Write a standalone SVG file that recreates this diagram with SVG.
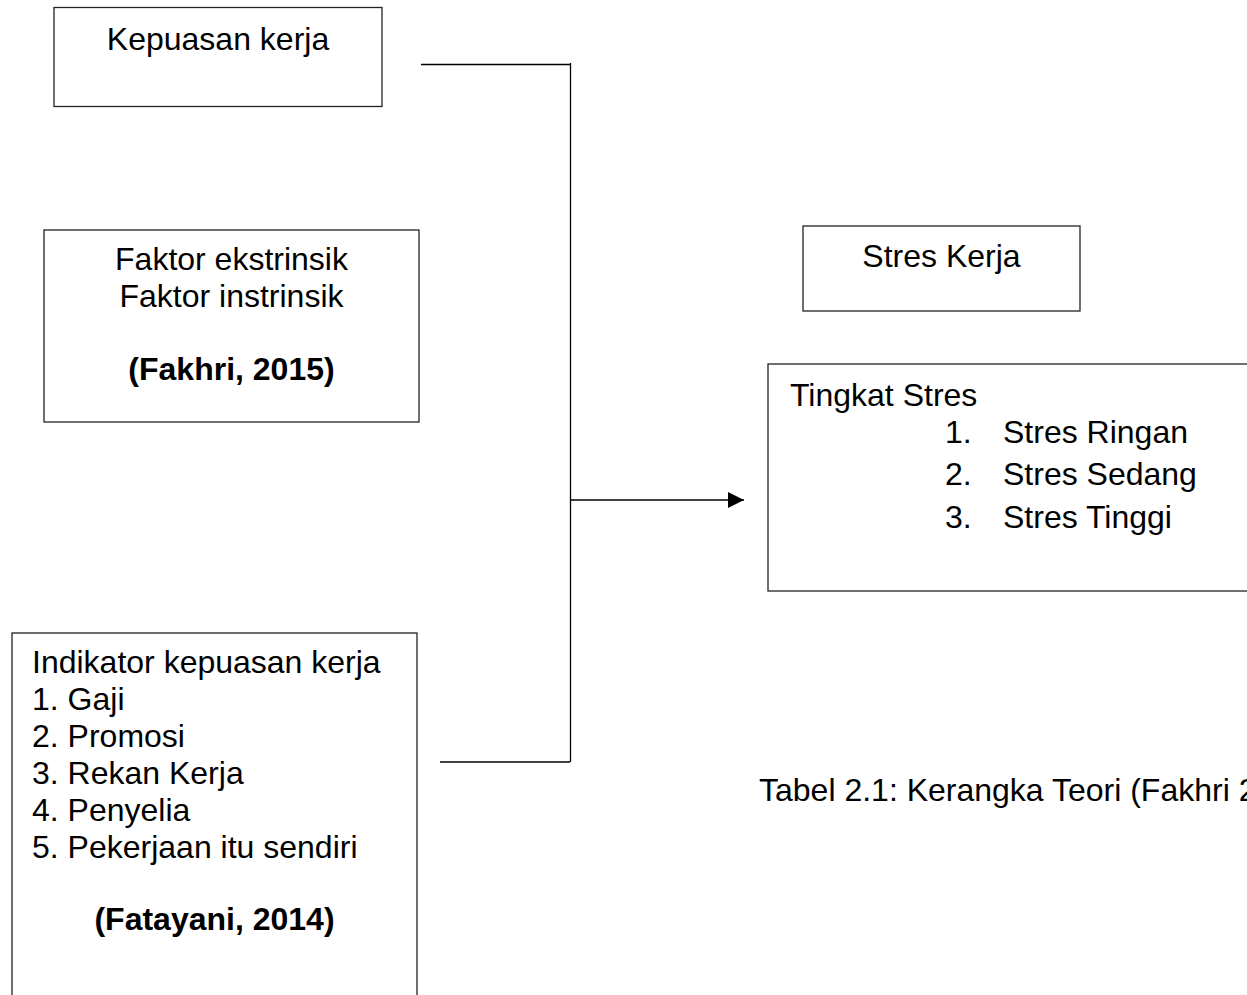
<svg xmlns="http://www.w3.org/2000/svg" width="1247" height="995" viewBox="0 0 1247 995">
<style>
.box{fill:#fff;stroke:#222;stroke-width:1.3}
.t{font-family:"Liberation Sans",Arial,sans-serif;font-size:32px;fill:#000}
.c{text-anchor:middle}
.b{font-weight:bold}
.ln{stroke:#000;stroke-width:1.3;fill:none}
</style>
<defs>
<marker id="arr" viewBox="0 0 16 16" refX="16" refY="8" markerWidth="16" markerHeight="16" markerUnits="userSpaceOnUse" orient="auto">
<path d="M0,0 L16,8 L0,16 Z" fill="#000"/>
</marker>
</defs>
<rect width="1247" height="995" fill="#fff"/>
<g id="connectors">
<line class="ln" x1="421" y1="64.5" x2="571" y2="64.5"/>
<line class="ln" x1="570.5" y1="63" x2="570.5" y2="762"/>
<line class="ln" x1="440" y1="762" x2="570" y2="762"/>
<line class="ln" x1="570.5" y1="500" x2="744" y2="500" marker-end="url(#arr)"/>
</g>
<g id="kepuasan">
<rect class="box" x="54" y="7.5" width="328" height="99"/>
<text class="t c" x="218" y="50">Kepuasan kerja</text>
</g>
<g id="faktor">
<rect class="box" x="44" y="230" width="375" height="192"/>
<text class="t c" x="231.5" y="270">Faktor ekstrinsik</text>
<text class="t c" x="231.5" y="307">Faktor instrinsik</text>
<text class="t c b" x="231.5" y="380">(Fakhri, 2015)</text>
</g>
<g id="indikator">
<rect class="box" x="12" y="633" width="405" height="380"/>
<text class="t" x="32" y="673">Indikator kepuasan kerja</text>
<text class="t" x="32" y="710">1. Gaji</text>
<text class="t" x="32" y="747">2. Promosi</text>
<text class="t" x="32" y="784">3. Rekan Kerja</text>
<text class="t" x="32" y="821">4. Penyelia</text>
<text class="t" x="32" y="858">5. Pekerjaan itu sendiri</text>
<text class="t c b" x="214.5" y="930">(Fatayani, 2014)</text>
</g>
<g id="stres-kerja">
<rect class="box" x="803" y="226" width="277" height="85"/>
<text class="t c" x="941.5" y="267">Stres Kerja</text>
</g>
<g id="tingkat">
<rect class="box" x="768" y="364" width="500" height="227"/>
<text class="t" x="790" y="406">Tingkat Stres</text>
<text class="t" x="945" y="443">1.</text>
<text class="t" x="1003" y="443">Stres Ringan</text>
<text class="t" x="945" y="485">2.</text>
<text class="t" x="1003" y="485">Stres Sedang</text>
<text class="t" x="945" y="528">3.</text>
<text class="t" x="1003" y="528">Stres Tinggi</text>
</g>
<g id="caption">
<text class="t" x="759" y="801">Tabel 2.1: Kerangka Teori (Fakhri 2015)</text>
</g>
</svg>
